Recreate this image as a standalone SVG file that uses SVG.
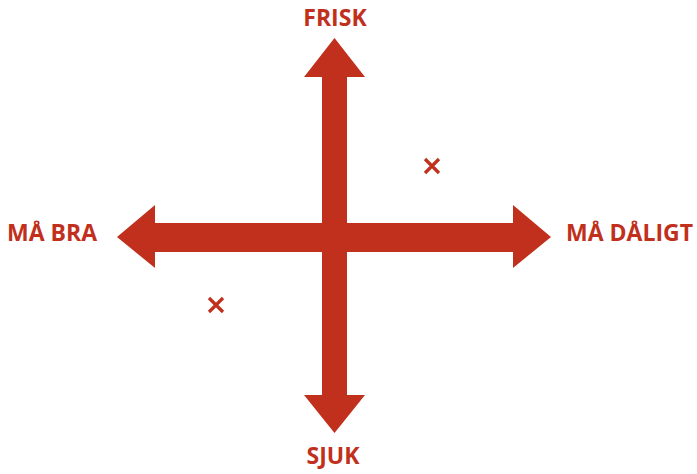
<svg xmlns="http://www.w3.org/2000/svg" width="697" height="474" viewBox="0 0 697 474">
<style>
.a{fill:#C1301C}
.t{font-family:"Open Sans","Liberation Sans",sans-serif;font-weight:bold;font-size:23px;fill:#C1301C}
.x{stroke:#C1301C;stroke-width:3.2;stroke-linecap:butt}
</style>
<rect width="697" height="474" fill="#fff"/>
<g id="connectors">
<polygon class="a" points="334.5,38 365,77 347,77 347,395 365,395 334.5,433 304,395 322,395 322,77 304,77"/>
<polygon class="a" points="117,237 155,205 155,223 513,223 513,205 551,237 513,268 513,252 155,252 155,268"/>
</g>
<g id="frisk"><text class="t" x="335" y="26" text-anchor="middle">FRISK</text></g>
<g id="sjuk"><text class="t" x="333" y="464" text-anchor="middle">SJUK</text></g>
<g id="ma-bra"><text class="t" x="7" y="241">MÅ BRA</text></g>
<g id="ma-daligt"><text class="t" x="566" y="241">MÅ DÅLIGT</text></g>
<g id="x1"><path class="x" d="M425,159 L439,173 M439,159 L425,173"/></g>
<g id="x2"><path class="x" d="M209,298 L223,312 M223,298 L209,312"/></g>
</svg>
